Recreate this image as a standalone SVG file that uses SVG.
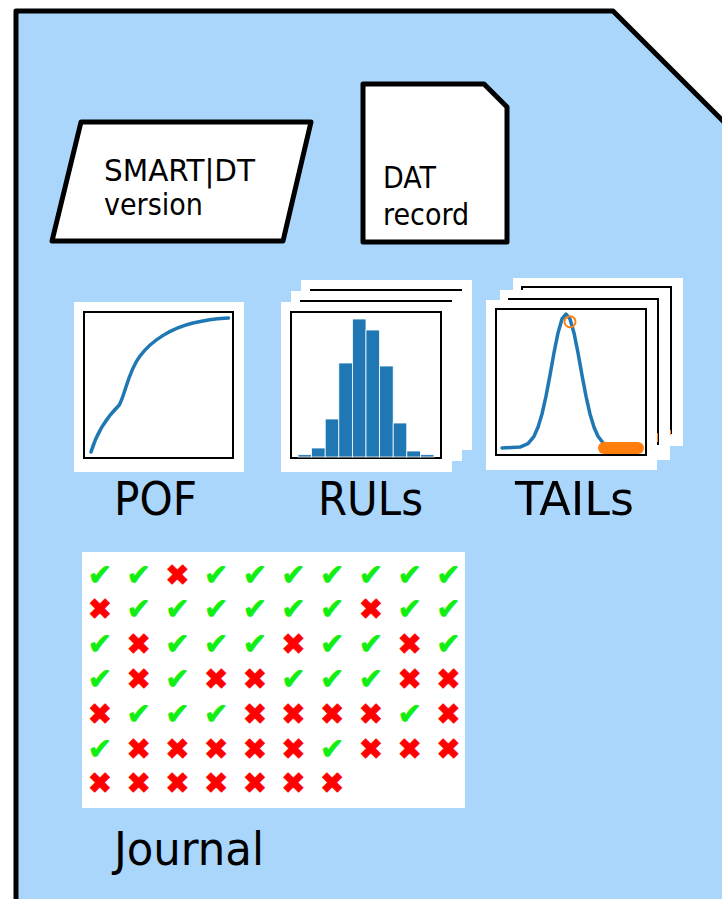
<svg xmlns="http://www.w3.org/2000/svg" width="722" height="899" viewBox="0 0 722 899">
<style>
.lbl{font-family:"DejaVu Sans Condensed","DejaVu Sans",sans-serif;font-stretch:condensed;fill:#000}
.sm{font-size:30px}
.big{font-size:46px}
.shape{fill:#fff;stroke:#000;stroke-width:5;stroke-linejoin:round}
.card{fill:#fff}
.frame{fill:#fff;stroke:#000;stroke-width:2}
.blue{fill:none;stroke:#1f77b4;stroke-width:3.5;stroke-linecap:round;stroke-linejoin:round}
.bar{fill:#1f77b4;stroke:#fff;stroke-width:0.8}
.ok{font-family:"DejaVu Sans",sans-serif;font-size:29px;fill:#11ee11;stroke:#11ee11;stroke-width:0.8;text-anchor:middle}
.no{font-family:"DejaVu Sans",sans-serif;font-size:29px;fill:#ff0000;stroke:#ff0000;stroke-width:0.8;text-anchor:middle}
</style>
<g id="container">
<path d="M16,910 L16,11 L613,11 L740,138 L740,910 Z" fill="#aad6fc" stroke="#000" stroke-width="5" stroke-linejoin="round"/>
</g>
<g id="version">
<path class="shape" d="M81,122 L311,122 L283,241 L52,241 Z"/>
<text class="lbl sm" x="104" y="181" textLength="151" lengthAdjust="spacingAndGlyphs">SMART|DT</text>
<text class="lbl sm" x="104" y="215">version</text>
</g>
<g id="record">
<path class="shape" d="M363,84 L484,84 L507,107 L507,242 L363,242 Z"/>
<text class="lbl sm" x="383" y="188">DAT</text>
<text class="lbl sm" x="383" y="225">record</text>
</g>
<g id="pof">
<rect class="card" x="74" y="302" width="170" height="170"/>
<rect class="frame" x="84" y="312" width="149" height="146"/>
<path class="blue" d="M91,452 Q99,425 119.3,405 C126,392 128,372 140,356 S172,328 193,323 S220,318.5 228.5,318"/>
<text class="lbl big" x="114" y="515" textLength="83" lengthAdjust="spacingAndGlyphs">POF</text>
</g>
<g id="ruls">
<rect class="card" x="301" y="280" width="171" height="170"/>
<rect class="frame" x="311" y="290" width="150" height="146"/>
<rect class="card" x="291" y="291" width="171" height="170"/>
<rect class="frame" x="301" y="301" width="150" height="146"/>
<rect class="card" x="281" y="302" width="171" height="170"/>
<rect class="frame" x="291" y="312" width="150" height="146"/>
<rect class="bar" x="298" y="454.7" width="13.6" height="2.3"/>
<rect class="bar" x="311.6" y="448" width="13.6" height="9"/>
<rect class="bar" x="325.2" y="419" width="13.6" height="38"/>
<rect class="bar" x="338.8" y="363" width="13.6" height="94"/>
<rect class="bar" x="352.4" y="319" width="13.6" height="138"/>
<rect class="bar" x="366" y="330" width="13.6" height="127"/>
<rect class="bar" x="379.6" y="366" width="13.6" height="91"/>
<rect class="bar" x="393.2" y="423" width="13.6" height="34"/>
<rect class="bar" x="406.8" y="451" width="13.6" height="6"/>
<rect class="bar" x="420.4" y="454.7" width="13.6" height="2.3"/>
<text class="lbl big" x="318" y="515" textLength="105" lengthAdjust="spacingAndGlyphs">RULs</text>
</g>
<g id="tails">
<rect class="card" x="513" y="278" width="170" height="168"/>
<rect class="frame" x="522" y="287" width="149" height="146"/>
<rect x="668" y="430" width="3" height="5" fill="#ff7f0e"/>
<rect class="card" x="500" y="290" width="170" height="170"/>
<rect class="frame" x="509" y="299" width="149" height="145"/>
<rect x="655" y="433" width="3" height="9" fill="#ff7f0e"/>
<rect class="card" x="486" y="300" width="171" height="170"/>
<rect class="frame" x="496" y="309" width="150" height="146"/>
<polyline class="blue" points="502,448 520,447.1 528,443.7 534,436.3 538,427.2 542,414 546,396.2 550,375.1 554,352.8 558,332.9 562,318.9 566,314 570,318.9 574,332.9 578,352.8 582,375.1 586,396.2 590,414 594,427.2 598,436.3 603,442.8"/>
<circle cx="570" cy="321.7" r="5.5" fill="none" stroke="#ff7f0e" stroke-width="2"/>
<path d="M604,448 L638,448" stroke="#ff7f0e" stroke-width="12" stroke-linecap="round"/>
<text class="lbl big" x="515" y="515" textLength="119" lengthAdjust="spacingAndGlyphs">TAILs</text>
</g>
<g id="journal">
<rect class="card" x="82" y="552" width="383" height="256"/>
<g transform="translate(100,584.7)">
<text class="ok" x="0" y="0">✔</text><text class="ok" x="38.7" y="0">✔</text><text class="no" x="77.4" y="0">✖</text><text class="ok" x="116.1" y="0">✔</text><text class="ok" x="154.8" y="0">✔</text><text class="ok" x="193.5" y="0">✔</text><text class="ok" x="232.2" y="0">✔</text><text class="ok" x="270.9" y="0">✔</text><text class="ok" x="309.6" y="0">✔</text><text class="ok" x="348.3" y="0">✔</text>
<text class="no" x="0" y="34.8">✖</text><text class="ok" x="38.7" y="34.8">✔</text><text class="ok" x="77.4" y="34.8">✔</text><text class="ok" x="116.1" y="34.8">✔</text><text class="ok" x="154.8" y="34.8">✔</text><text class="ok" x="193.5" y="34.8">✔</text><text class="ok" x="232.2" y="34.8">✔</text><text class="no" x="270.9" y="34.8">✖</text><text class="ok" x="309.6" y="34.8">✔</text><text class="ok" x="348.3" y="34.8">✔</text>
<text class="ok" x="0" y="69.6">✔</text><text class="no" x="38.7" y="69.6">✖</text><text class="ok" x="77.4" y="69.6">✔</text><text class="ok" x="116.1" y="69.6">✔</text><text class="ok" x="154.8" y="69.6">✔</text><text class="no" x="193.5" y="69.6">✖</text><text class="ok" x="232.2" y="69.6">✔</text><text class="ok" x="270.9" y="69.6">✔</text><text class="no" x="309.6" y="69.6">✖</text><text class="ok" x="348.3" y="69.6">✔</text>
<text class="ok" x="0" y="104.4">✔</text><text class="no" x="38.7" y="104.4">✖</text><text class="ok" x="77.4" y="104.4">✔</text><text class="no" x="116.1" y="104.4">✖</text><text class="no" x="154.8" y="104.4">✖</text><text class="ok" x="193.5" y="104.4">✔</text><text class="ok" x="232.2" y="104.4">✔</text><text class="ok" x="270.9" y="104.4">✔</text><text class="no" x="309.6" y="104.4">✖</text><text class="no" x="348.3" y="104.4">✖</text>
<text class="no" x="0" y="139.2">✖</text><text class="ok" x="38.7" y="139.2">✔</text><text class="ok" x="77.4" y="139.2">✔</text><text class="ok" x="116.1" y="139.2">✔</text><text class="no" x="154.8" y="139.2">✖</text><text class="no" x="193.5" y="139.2">✖</text><text class="no" x="232.2" y="139.2">✖</text><text class="no" x="270.9" y="139.2">✖</text><text class="ok" x="309.6" y="139.2">✔</text><text class="no" x="348.3" y="139.2">✖</text>
<text class="ok" x="0" y="174">✔</text><text class="no" x="38.7" y="174">✖</text><text class="no" x="77.4" y="174">✖</text><text class="no" x="116.1" y="174">✖</text><text class="no" x="154.8" y="174">✖</text><text class="no" x="193.5" y="174">✖</text><text class="ok" x="232.2" y="174">✔</text><text class="no" x="270.9" y="174">✖</text><text class="no" x="309.6" y="174">✖</text><text class="no" x="348.3" y="174">✖</text>
<text class="no" x="0" y="208.8">✖</text><text class="no" x="38.7" y="208.8">✖</text><text class="no" x="77.4" y="208.8">✖</text><text class="no" x="116.1" y="208.8">✖</text><text class="no" x="154.8" y="208.8">✖</text><text class="no" x="193.5" y="208.8">✖</text><text class="no" x="232.2" y="208.8">✖</text>
</g>
<text class="lbl big" x="114" y="865" textLength="150" lengthAdjust="spacingAndGlyphs">Journal</text>
</g>
</svg>
